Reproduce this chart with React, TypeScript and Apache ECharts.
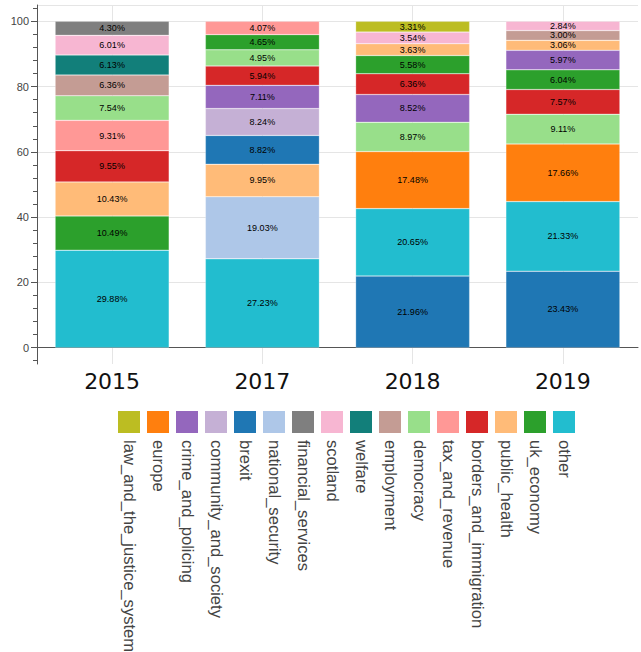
import React, { useEffect, useRef } from 'react';
import * as echarts from 'echarts';

const years = ['2015', '2017', '2018', '2019'];

const topics2015 = ['other', 'uk_economy', 'public_health', 'borders_and_immigration', 'tax_and_revenue', 'democracy', 'employment', 'welfare', 'scotland', 'financial_services'];
const shares2015 = [29.88, 10.49, 10.43, 9.55, 9.31, 7.54, 6.36, 6.13, 6.01, 4.30];

const topics2017 = ['other', 'national_security', 'public_health', 'brexit', 'community_and_society', 'crime_and_policing', 'borders_and_immigration', 'democracy', 'uk_economy', 'tax_and_revenue'];
const shares2017 = [27.23, 19.03, 9.95, 8.82, 8.24, 7.11, 5.94, 4.95, 4.65, 4.07];

const topics2018 = ['brexit', 'other', 'europe', 'democracy', 'crime_and_policing', 'borders_and_immigration', 'uk_economy', 'public_health', 'scotland', 'law_and_the_justice_system'];
const shares2018 = [21.96, 20.65, 17.48, 8.97, 8.52, 6.36, 5.58, 3.63, 3.54, 3.31];

const topics2019 = ['brexit', 'other', 'europe', 'democracy', 'borders_and_immigration', 'uk_economy', 'crime_and_policing', 'public_health', 'employment', 'scotland'];
const shares2019 = [23.43, 21.33, 17.66, 9.11, 7.57, 6.04, 5.97, 3.06, 3.00, 2.84];

const legendTopics = ['law_and_the_justice_system', 'europe', 'crime_and_policing', 'community_and_society', 'brexit', 'national_security', 'financial_services', 'scotland', 'welfare', 'employment', 'democracy', 'tax_and_revenue', 'borders_and_immigration', 'public_health', 'uk_economy', 'other'];
const topicColors = ['#bcbd22', '#ff7f0e', '#9467bd', '#c5b0d5', '#1f77b4', '#aec7e8', '#7f7f7f', '#f7b6d2', '#127f7a', '#c49c94', '#98df8a', '#ff9896', '#d62728', '#ffbb78', '#2ca02c', '#22bdcf'];

const yTicks = [0, 20, 40, 60, 80, 100];
const yMinorTicks = [-4, 4, 8, 12, 16, 24, 28, 32, 36, 44, 48, 52, 56, 64, 68, 72, 76, 84, 88, 92, 96, 104];
const xGridPositions = [0.5, 1.5, 2.5, 3.5];

const topicsByYear = [topics2015, topics2017, topics2018, topics2019];
const sharesByYear = [shares2015, shares2017, shares2018, shares2019];
const colorOf = (t: string) => topicColors[legendTopics.indexOf(t)];

export default function App() {
  const ref = useRef<HTMLDivElement>(null);
  useEffect(() => {
    if (!ref.current) return;
    const chart = echarts.init(ref.current, null, { renderer: 'svg' });

    const rankSeries = shares2015.map((_, rank) => ({
      type: 'bar',
      stack: 'share',
      barWidth: 114,
      xAxisIndex: 0,
      yAxisIndex: 0,
      z: 3,
      itemStyle: { borderColor: 'rgba(255,255,255,0.5)', borderWidth: 0.5 },
      label: {
        show: true,
        position: 'inside',
        formatter: (p: any) => Number(p.value).toFixed(2) + '%',
        fontSize: 9,
        color: '#000',
        fontFamily: 'Liberation Sans, Arial, sans-serif',
      },
      data: years.map((_y, yi) => ({
        name: topicsByYear[yi][rank],
        value: sharesByYear[yi][rank],
        itemStyle: { color: colorOf(topicsByYear[yi][rank]) },
      })),
    }));

    const legendGraphics: any[] = [
      {
        type: 'line',
        shape: { x1: 37, y1: 5.5, x2: 638, y2: 5.5 },
        style: { stroke: '#e5e5e5', lineWidth: 1 },
        z: 0,
      },
    ];
    legendTopics.forEach((t, i) => {
      legendGraphics.push({
        type: 'rect',
        x: 118 + i * 29,
        y: 411,
        shape: { width: 22, height: 22 },
        style: { fill: topicColors[i] },
      });
      legendGraphics.push({
        type: 'text',
        x: 129 + i * 29,
        y: 440,
        rotation: -Math.PI / 2,
        style: {
          text: t,
          fontSize: 16.6,
          fill: '#444',
          fontFamily: 'Liberation Sans, Arial, sans-serif',
          textAlign: 'left',
          textVerticalAlign: 'middle',
        },
      });
    });

    chart.setOption({
      animation: false,
      grid: {
        left: 37,
        right: 3,
        top: 5,
        bottom: 288,
        show: false,
        containLabel: false,
      },
      xAxis: [
        {
          type: 'category',
          data: years,
          axisLine: { lineStyle: { color: '#555' } },
          axisTick: { alignWithLabel: true, length: 4, lineStyle: { color: '#555' } },
          axisLabel: { fontSize: 22, fontFamily: 'DejaVu Sans', color: '#111', margin: 6 },
          splitLine: { show: false },
        },
        {
          type: 'value',
          min: 0,
          max: 4,
          position: 'bottom',
          axisLine: { show: false },
          axisTick: { show: false, customValues: xGridPositions },
          axisLabel: { show: false },
          splitLine: { show: true, lineStyle: { color: '#e5e5e5' } },
        },
      ],
      yAxis: [
        {
          type: 'value',
          min: -5,
          max: 105,
          axisLine: { show: true, lineStyle: { color: '#555' } },
          axisTick: { show: true, length: 6, customValues: yTicks, lineStyle: { color: '#555' } },
          axisLabel: { customValues: yTicks, fontSize: 11, color: '#444', fontFamily: 'Liberation Sans, Arial, sans-serif', margin: 8 },
          splitLine: { show: true, lineStyle: { color: '#e5e5e5' } },
        },
        {
          type: 'value',
          min: -5,
          max: 105,
          position: 'left',
          axisLine: { show: false },
          axisTick: { show: true, length: 4, customValues: yMinorTicks, lineStyle: { color: '#555' } },
          axisLabel: { show: false },
          splitLine: { show: false },
        },
      ],
      series: rankSeries,
      graphic: legendGraphics,
    });
    return () => chart.dispose();
  }, []);
  return <div ref={ref} style={{ position: 'absolute', left: 0, top: 0, width: 641, height: 652 }} />;
}
